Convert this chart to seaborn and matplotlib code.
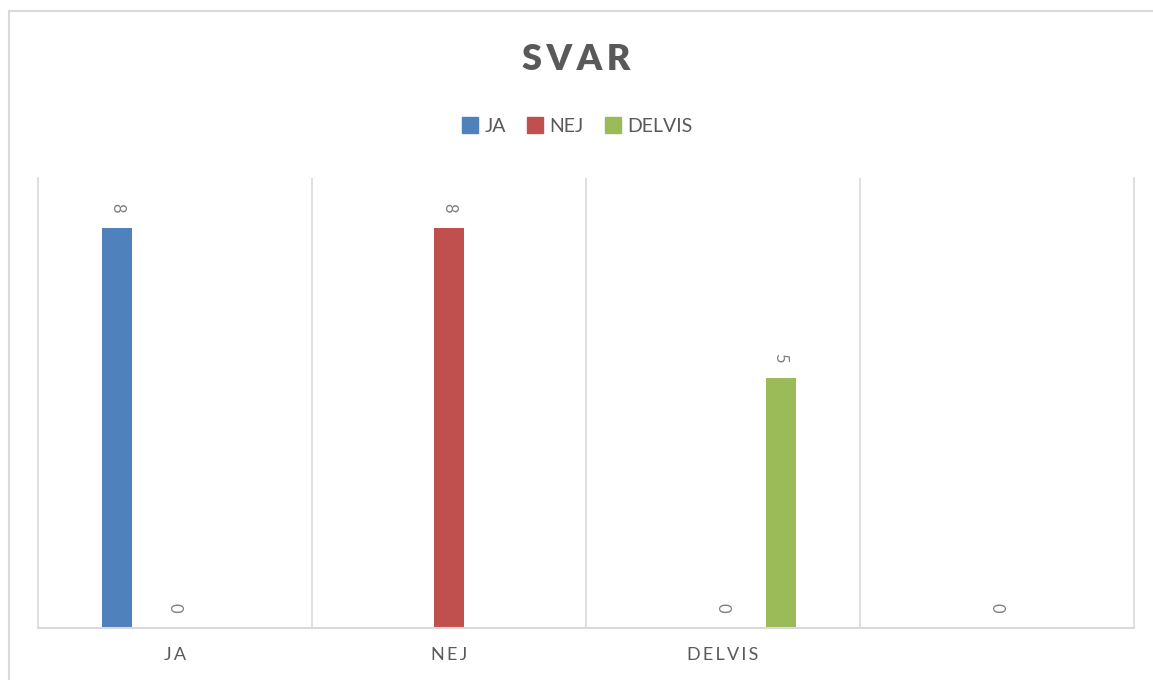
import numpy as np
import pandas as pd
import matplotlib
matplotlib.use('Agg')
import matplotlib.pyplot as plt
from matplotlib.lines import Line2D
import seaborn as sns

# Data
categories = ['JA', 'NEJ', 'DELVIS', '']
series = ['JA', 'NEJ', 'DELVIS']
ja_values = [8, np.nan, np.nan, np.nan]
nej_values = [0, 8, 0, 0]
delvis_values = [np.nan, np.nan, 5, np.nan]
colors = ['#4f81bd', '#c0504d', '#9bbb59']

df = pd.DataFrame({
    'kategori': categories * 3,
    'serie': ['JA'] * 4 + ['NEJ'] * 4 + ['DELVIS'] * 4,
    'antal': ja_values + nej_values + delvis_values,
})

sns.set_style('white')
plt.rcParams['font.family'] = ['Lato', 'DejaVu Sans']

fig = plt.figure(figsize=(11.53, 6.80), dpi=100)
ax = fig.add_axes([38 / 1153, 1 - 628 / 680, (1134 - 38) / 1153, (628 - 178) / 680])

sns.barplot(data=df, x='kategori', y='antal', hue='serie', order=categories,
            hue_order=series, palette=colors, width=0.63, gap=0.48,
            saturation=1, linewidth=0, legend=False, ax=ax)

# data labels, rotated like in Excel
for cont in ax.containers:
    labels = ['' if np.isnan(v) else f'{v:g}' for v in cont.datavalues]
    ax.bar_label(cont, labels=labels, rotation=270, padding=11,
                 fontsize=12, color='#7f7f7f')

ax.set_xlim(-0.5, 3.5)
ax.set_ylim(0, 9)
ax.set_yticks([])
ax.set_xlabel('')
ax.set_ylabel('')

# vertical gridlines between categories
for xpos in [0.5, 1.5, 2.5]:
    ax.axvline(xpos, color='#d9d9d9', lw=1.2, zorder=0)
for side in ['left', 'right']:
    ax.spines[side].set_color('#d9d9d9')
    ax.spines[side].set_linewidth(1.2)
ax.spines['top'].set_visible(False)
ax.spines['bottom'].set_color('#d9d9d9')
ax.spines['bottom'].set_linewidth(1.5)

ax.set_xticks(range(len(categories)))
ax.set_xticklabels(['\u2009'.join(c) for c in categories], fontsize=13,
                   color='#595959')
ax.tick_params(axis='x', length=0, pad=14)

fig.text(0.5, 1 - 60 / 680, '\u2009'.join('SVAR'), ha='center', va='center',
         fontsize=26, fontweight='heavy', color='#595959')

handles = [Line2D([], [], marker='s', ls='', markersize=11, color=c) for c in colors]
fig.legend(handles, series, loc='center', bbox_to_anchor=(0.5, 1 - 126 / 680),
           ncol=3, frameon=False, fontsize=14, labelcolor='#595959',
           handletextpad=0.25, columnspacing=1.0, handlelength=1.0)

# outer chart border
fig.add_artist(Line2D([9 / 1153, 1], [1 - 11 / 680, 1 - 11 / 680],
                      color='#d9d9d9', lw=1.5, transform=fig.transFigure))
fig.add_artist(Line2D([9 / 1153, 9 / 1153], [0, 1 - 11 / 680],
                      color='#d9d9d9', lw=1.5, transform=fig.transFigure))

fig.savefig('out.png', dpi=100, facecolor='white')
